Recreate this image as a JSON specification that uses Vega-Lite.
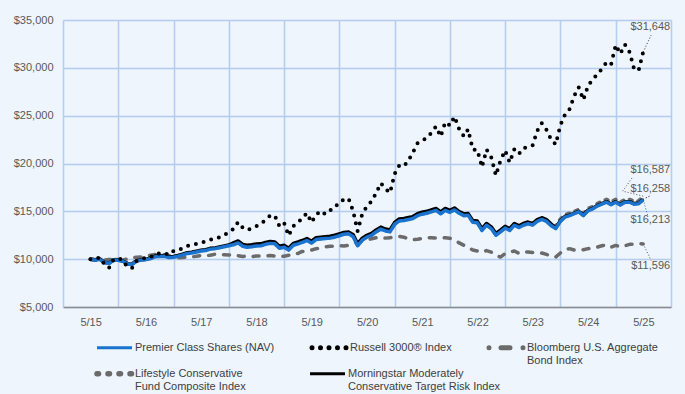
{
"$schema":"https://vega.github.io/schema/vega-lite/v6.json",
"width":608,"height":287,
"autosize":"none",
"padding":{"left":63,"top":20,"right":14,"bottom":87},
"background":"#eef5fc",
"config":{"view":{"stroke":null,"fill":"#eef5fc"},"font":"Liberation Sans",
"axis":{"labelFont":"Liberation Sans","labelFontSize":11,"labelColor":"#595959","gridColor":"#b3ccef","gridWidth":1.5,"ticks":false,"title":null}},
"data":{"values":[
{"d":"2015-05-01","premier":10000,"russell":10000,"bloomberg":10000,"lifestyle":10000,"morningstar":10000},
{"d":"2015-06-01","premier":9900,"russell":10020,"bloomberg":9900,"lifestyle":9980,"morningstar":9930},
{"d":"2015-07-01","premier":9980,"russell":10180,"bloomberg":9960,"lifestyle":10060,"morningstar":10010},
{"d":"2015-08-01","premier":9650,"russell":9500,"bloomberg":9900,"lifestyle":9730,"morningstar":9680},
{"d":"2015-09-01","premier":9550,"russell":9100,"bloomberg":9970,"lifestyle":9630,"morningstar":9580},
{"d":"2015-10-01","premier":9900,"russell":9950,"bloomberg":9970,"lifestyle":9980,"morningstar":9930},
{"d":"2015-11-01","premier":9880,"russell":10100,"bloomberg":9950,"lifestyle":9960,"morningstar":9910},
{"d":"2015-12-01","premier":9780,"russell":9900,"bloomberg":9900,"lifestyle":9860,"morningstar":9810},
{"d":"2016-01-01","premier":9500,"russell":9150,"bloomberg":10040,"lifestyle":9580,"morningstar":9530},
{"d":"2016-02-01","premier":9450,"russell":9100,"bloomberg":10110,"lifestyle":9530,"morningstar":9480},
{"d":"2016-03-01","premier":9800,"russell":9800,"bloomberg":10200,"lifestyle":9880,"morningstar":9830},
{"d":"2016-04-01","premier":9900,"russell":10000,"bloomberg":10240,"lifestyle":9980,"morningstar":9930},
{"d":"2016-05-01","premier":9950,"russell":10150,"bloomberg":10240,"lifestyle":10030,"morningstar":9980},
{"d":"2016-06-01","premier":10050,"russell":10200,"bloomberg":10420,"lifestyle":10130,"morningstar":10130},
{"d":"2016-07-01","premier":10250,"russell":10550,"bloomberg":10480,"lifestyle":10330,"morningstar":10330},
{"d":"2016-08-01","premier":10280,"russell":10600,"bloomberg":10470,"lifestyle":10360,"morningstar":10360},
{"d":"2016-09-01","premier":10300,"russell":10620,"bloomberg":10460,"lifestyle":10380,"morningstar":10380},
{"d":"2016-10-01","premier":10180,"russell":10450,"bloomberg":10380,"lifestyle":10260,"morningstar":10260},
{"d":"2016-11-01","premier":10200,"russell":10850,"bloomberg":10130,"lifestyle":10280,"morningstar":10280},
{"d":"2016-12-01","premier":10300,"russell":10950,"bloomberg":10150,"lifestyle":10380,"morningstar":10380},
{"d":"2017-01-01","premier":10450,"russell":11150,"bloomberg":10170,"lifestyle":10530,"morningstar":10530},
{"d":"2017-02-01","premier":10600,"russell":11400,"bloomberg":10240,"lifestyle":10650,"morningstar":10680},
{"d":"2017-03-01","premier":10650,"russell":11450,"bloomberg":10230,"lifestyle":10700,"morningstar":10730},
{"d":"2017-04-01","premier":10750,"russell":11600,"bloomberg":10310,"lifestyle":10800,"morningstar":10830},
{"d":"2017-05-01","premier":10850,"russell":11750,"bloomberg":10390,"lifestyle":10900,"morningstar":10930},
{"d":"2017-06-01","premier":10900,"russell":11850,"bloomberg":10370,"lifestyle":10950,"morningstar":10980},
{"d":"2017-07-01","premier":11050,"russell":12050,"bloomberg":10410,"lifestyle":11100,"morningstar":11130},
{"d":"2017-08-01","premier":11100,"russell":12100,"bloomberg":10510,"lifestyle":11150,"morningstar":11180},
{"d":"2017-09-01","premier":11200,"russell":12300,"bloomberg":10460,"lifestyle":11250,"morningstar":11280},
{"d":"2017-10-01","premier":11300,"russell":12500,"bloomberg":10460,"lifestyle":11350,"morningstar":11380},
{"d":"2017-11-01","premier":11400,"russell":12850,"bloomberg":10440,"lifestyle":11450,"morningstar":11480},
{"d":"2017-12-01","premier":11500,"russell":13150,"bloomberg":10490,"lifestyle":11550,"morningstar":11700},
{"d":"2018-01-01","premier":11700,"russell":13880,"bloomberg":10370,"lifestyle":11750,"morningstar":11900},
{"d":"2018-02-01","premier":11350,"russell":13300,"bloomberg":10270,"lifestyle":11400,"morningstar":11550},
{"d":"2018-03-01","premier":11250,"russell":13050,"bloomberg":10340,"lifestyle":11300,"morningstar":11450},
{"d":"2018-04-01","premier":11300,"russell":13200,"bloomberg":10260,"lifestyle":11350,"morningstar":11500},
{"d":"2018-05-01","premier":11380,"russell":13450,"bloomberg":10340,"lifestyle":11430,"morningstar":11580},
{"d":"2018-06-01","premier":11400,"russell":13700,"bloomberg":10330,"lifestyle":11450,"morningstar":11600},
{"d":"2018-07-01","premier":11550,"russell":14100,"bloomberg":10330,"lifestyle":11600,"morningstar":11750},
{"d":"2018-08-01","premier":11650,"russell":14550,"bloomberg":10390,"lifestyle":11700,"morningstar":11850},
{"d":"2018-09-01","premier":11600,"russell":14550,"bloomberg":10330,"lifestyle":11650,"morningstar":11800},
{"d":"2018-10-01","premier":11150,"russell":13450,"bloomberg":10250,"lifestyle":11200,"morningstar":11350},
{"d":"2018-11-01","premier":11250,"russell":13800,"bloomberg":10310,"lifestyle":11300,"morningstar":11450},
{"d":"2018-12-01","premier":10950,"russell":12450,"bloomberg":10400,"lifestyle":11000,"morningstar":11150},
{"d":"2019-01-01","premier":11450,"russell":13450,"bloomberg":10610,"lifestyle":11500,"morningstar":11650},
{"d":"2019-02-01","premier":11600,"russell":13850,"bloomberg":10600,"lifestyle":11650,"morningstar":11800},
{"d":"2019-03-01","premier":11750,"russell":14250,"bloomberg":10810,"lifestyle":11800,"morningstar":11950},
{"d":"2019-04-01","premier":11950,"russell":14820,"bloomberg":10810,"lifestyle":12000,"morningstar":12150},
{"d":"2019-05-01","premier":11680,"russell":13850,"bloomberg":10950,"lifestyle":11730,"morningstar":11880},
{"d":"2019-06-01","premier":12050,"russell":14650,"bloomberg":11100,"lifestyle":12100,"morningstar":12250},
{"d":"2019-07-01","premier":12100,"russell":15050,"bloomberg":11150,"lifestyle":12150,"morningstar":12300},
{"d":"2019-08-01","premier":12150,"russell":14700,"bloomberg":11300,"lifestyle":12200,"morningstar":12350},
{"d":"2019-09-01","premier":12200,"russell":15100,"bloomberg":11350,"lifestyle":12250,"morningstar":12400},
{"d":"2019-10-01","premier":12300,"russell":15350,"bloomberg":11370,"lifestyle":12350,"morningstar":12500},
{"d":"2019-11-01","premier":12450,"russell":16000,"bloomberg":11400,"lifestyle":12500,"morningstar":12650},
{"d":"2019-12-01","premier":12600,"russell":16200,"bloomberg":11380,"lifestyle":12650,"morningstar":12800},
{"d":"2020-01-01","premier":12650,"russell":16350,"bloomberg":11450,"lifestyle":12700,"morningstar":12850},
{"d":"2020-02-01","premier":12350,"russell":15000,"bloomberg":11700,"lifestyle":12400,"morningstar":12550},
{"d":"2020-03-01","premier":11400,"russell":12930,"bloomberg":11750,"lifestyle":11450,"morningstar":11600},
{"d":"2020-04-01","premier":12000,"russell":14750,"bloomberg":11900,"lifestyle":12050,"morningstar":12200},
{"d":"2020-05-01","premier":12300,"russell":15510,"bloomberg":12000,"lifestyle":12350,"morningstar":12500},
{"d":"2020-06-01","premier":12500,"russell":16050,"bloomberg":12140,"lifestyle":12550,"morningstar":12700},
{"d":"2020-07-01","premier":12850,"russell":16900,"bloomberg":12240,"lifestyle":12900,"morningstar":13050},
{"d":"2020-08-01","premier":13150,"russell":17950,"bloomberg":12240,"lifestyle":13200,"morningstar":13350},
{"d":"2020-09-01","premier":12950,"russell":17360,"bloomberg":12200,"lifestyle":13000,"morningstar":13150},
{"d":"2020-10-01","premier":12850,"russell":16940,"bloomberg":12250,"lifestyle":12900,"morningstar":13050},
{"d":"2020-11-01","premier":13650,"russell":18930,"bloomberg":12300,"lifestyle":13700,"morningstar":13850},
{"d":"2020-12-01","premier":14000,"russell":19790,"bloomberg":12380,"lifestyle":14050,"morningstar":14200},
{"d":"2021-01-01","premier":14050,"russell":19720,"bloomberg":12300,"lifestyle":14100,"morningstar":14250},
{"d":"2021-02-01","premier":14150,"russell":20350,"bloomberg":12100,"lifestyle":14200,"morningstar":14350},
{"d":"2021-03-01","premier":14250,"russell":21150,"bloomberg":12040,"lifestyle":14300,"morningstar":14450},
{"d":"2021-04-01","premier":14550,"russell":22120,"bloomberg":12080,"lifestyle":14600,"morningstar":14750},
{"d":"2021-05-01","premier":14700,"russell":22350,"bloomberg":12150,"lifestyle":14750,"morningstar":14900},
{"d":"2021-06-01","premier":14800,"russell":22700,"bloomberg":12240,"lifestyle":14850,"morningstar":15000},
{"d":"2021-07-01","premier":14950,"russell":23200,"bloomberg":12250,"lifestyle":15000,"morningstar":15150},
{"d":"2021-08-01","premier":15100,"russell":23870,"bloomberg":12220,"lifestyle":15150,"morningstar":15300},
{"d":"2021-09-01","premier":14750,"russell":22820,"bloomberg":12200,"lifestyle":14800,"morningstar":14950},
{"d":"2021-10-01","premier":15100,"russell":24310,"bloomberg":12240,"lifestyle":15150,"morningstar":15300},
{"d":"2021-11-01","premier":14900,"russell":23970,"bloomberg":12180,"lifestyle":14950,"morningstar":15100},
{"d":"2021-12-01","premier":15150,"russell":24910,"bloomberg":11960,"lifestyle":15200,"morningstar":15350},
{"d":"2022-01-01","premier":14800,"russell":23600,"bloomberg":11700,"lifestyle":14850,"morningstar":14980},
{"d":"2022-02-01","premier":14550,"russell":22850,"bloomberg":11450,"lifestyle":14600,"morningstar":14730},
{"d":"2022-03-01","premier":14600,"russell":23580,"bloomberg":11260,"lifestyle":14650,"morningstar":14780},
{"d":"2022-04-01","premier":13850,"russell":21460,"bloomberg":10950,"lifestyle":13900,"morningstar":14030},
{"d":"2022-05-01","premier":13800,"russell":21430,"bloomberg":10850,"lifestyle":13850,"morningstar":13980},
{"d":"2022-06-01","premier":13000,"russell":19620,"bloomberg":10700,"lifestyle":13050,"morningstar":13180},
{"d":"2022-07-01","premier":13550,"russell":21460,"bloomberg":10900,"lifestyle":13600,"morningstar":13730},
{"d":"2022-08-01","premier":13200,"russell":20660,"bloomberg":10740,"lifestyle":13250,"morningstar":13380},
{"d":"2022-09-01","premier":12500,"russell":18750,"bloomberg":10400,"lifestyle":12550,"morningstar":12680},
{"d":"2022-10-01","premier":12850,"russell":20300,"bloomberg":10220,"lifestyle":12900,"morningstar":13030},
{"d":"2022-11-01","premier":13250,"russell":21360,"bloomberg":10600,"lifestyle":13300,"morningstar":13430},
{"d":"2022-12-01","premier":13000,"russell":20100,"bloomberg":10740,"lifestyle":13100,"morningstar":13180},
{"d":"2023-01-01","premier":13550,"russell":21500,"bloomberg":10850,"lifestyle":13650,"morningstar":13730},
{"d":"2023-02-01","premier":13300,"russell":21010,"bloomberg":10600,"lifestyle":13400,"morningstar":13480},
{"d":"2023-03-01","premier":13550,"russell":21600,"bloomberg":10750,"lifestyle":13650,"morningstar":13730},
{"d":"2023-04-01","premier":13700,"russell":21750,"bloomberg":10740,"lifestyle":13800,"morningstar":13880},
{"d":"2023-05-01","premier":13550,"russell":21880,"bloomberg":10700,"lifestyle":13650,"morningstar":13730},
{"d":"2023-06-01","premier":13950,"russell":23400,"bloomberg":10680,"lifestyle":14050,"morningstar":14130},
{"d":"2023-07-01","premier":14150,"russell":24210,"bloomberg":10640,"lifestyle":14250,"morningstar":14330},
{"d":"2023-08-01","premier":13950,"russell":23520,"bloomberg":10500,"lifestyle":14050,"morningstar":14130},
{"d":"2023-09-01","premier":13500,"russell":22500,"bloomberg":10300,"lifestyle":13600,"morningstar":13680},
{"d":"2023-10-01","premier":13200,"russell":21990,"bloomberg":10220,"lifestyle":13450,"morningstar":13260},
{"d":"2023-11-01","premier":13950,"russell":24000,"bloomberg":10650,"lifestyle":14200,"morningstar":14010},
{"d":"2023-12-01","premier":14400,"russell":25100,"bloomberg":11000,"lifestyle":14650,"morningstar":14460},
{"d":"2024-01-01","premier":14550,"russell":25700,"bloomberg":11100,"lifestyle":14800,"morningstar":14610},
{"d":"2024-02-01","premier":14750,"russell":27100,"bloomberg":10950,"lifestyle":15000,"morningstar":14810},
{"d":"2024-03-01","premier":14950,"russell":27970,"bloomberg":11000,"lifestyle":15200,"morningstar":15010},
{"d":"2024-04-01","premier":14550,"russell":26650,"bloomberg":10990,"lifestyle":14800,"morningstar":14610},
{"d":"2024-05-01","premier":15050,"russell":28100,"bloomberg":11100,"lifestyle":15300,"morningstar":15110},
{"d":"2024-06-01","premier":15250,"russell":28800,"bloomberg":11150,"lifestyle":15500,"morningstar":15310},
{"d":"2024-07-01","premier":15550,"russell":29300,"bloomberg":11260,"lifestyle":15800,"morningstar":15610},
{"d":"2024-08-01","premier":15750,"russell":29900,"bloomberg":11400,"lifestyle":16050,"morningstar":15810},
{"d":"2024-09-01","premier":15950,"russell":30580,"bloomberg":11500,"lifestyle":16250,"morningstar":16010},
{"d":"2024-10-01","premier":15700,"russell":30350,"bloomberg":11250,"lifestyle":16000,"morningstar":15760},
{"d":"2024-11-01","premier":15950,"russell":32390,"bloomberg":11440,"lifestyle":16250,"morningstar":16010},
{"d":"2024-12-01","premier":15650,"russell":31460,"bloomberg":11300,"lifestyle":15950,"morningstar":15710},
{"d":"2025-01-01","premier":15950,"russell":32430,"bloomberg":11400,"lifestyle":16250,"morningstar":16010},
{"d":"2025-02-01","premier":15950,"russell":31620,"bloomberg":11550,"lifestyle":16250,"morningstar":16010},
{"d":"2025-03-01","premier":15750,"russell":29950,"bloomberg":11560,"lifestyle":16050,"morningstar":15810},
{"d":"2025-04-01","premier":15800,"russell":29710,"bloomberg":11620,"lifestyle":16100,"morningstar":15860},
{"d":"2025-05-01","premier":16213,"russell":31648,"bloomberg":11596,"lifestyle":16587,"morningstar":16258}
]},
"transform":[{"fold":["premier","russell","bloomberg","lifestyle","morningstar"],"as":["series","value"]}],
"encoding":{
"x":{"field":"d","type":"temporal","scale":{"type":"utc","domain":[{"year":2014,"month":11,"date":1,"utc":true},{"year":2025,"month":11,"date":1,"utc":true}]},
"axis":{"values":[{"year":2015,"month":11,"date":1,"utc":true},{"year":2016,"month":11,"date":1,"utc":true},{"year":2017,"month":11,"date":1,"utc":true},{"year":2018,"month":11,"date":1,"utc":true},{"year":2019,"month":11,"date":1,"utc":true},{"year":2020,"month":11,"date":1,"utc":true},{"year":2021,"month":11,"date":1,"utc":true},{"year":2022,"month":11,"date":1,"utc":true},{"year":2023,"month":11,"date":1,"utc":true},{"year":2024,"month":11,"date":1,"utc":true},{"year":2025,"month":11,"date":1,"utc":true}],
"labelExpr":"'5/' + utcFormat(datum.value, '%y')","labelOffset":-27.6,"labelAngle":0,"labelFlush":false,"labelOverlap":false,"labelBound":false,"labelPadding":9,"grid":true,"domainColor":"#8c8c8c","domainWidth":1.5}},
"y":{"field":"value","type":"quantitative","scale":{"domain":[5000,35000],"nice":false,"zero":false},
"axis":{"values":[5000,10000,15000,20000,25000,30000,35000],"format":"$,d","grid":true,"labelPadding":10,"domainColor":"#b3ccef","domainWidth":1.5}}
},
"layer":[
{"transform":[{"filter":"datum.series == 'bloomberg'"}],
"mark":{"type":"line","strokeWidth":3.5,"strokeDash":[6,9],"strokeCap":"round","strokeJoin":"round"},
"encoding":{"color":{"field":"series","type":"nominal","scale":{"domain":["premier","russell","bloomberg"],"range":["#1a73cf","#000000","#6b6b6b"]},
"legend":{"orient":"none","legendX":34,"legendY":322,"direction":"horizontal","title":null,"symbolType":"M-1,0L1,0","symbolSize":1225,"symbolStrokeWidth":3,"labelFont":"Liberation Sans","labelFontSize":11,"labelColor":"#404040","labelOffset":2,"columnPadding":27,"labelLimit":300,
"labelExpr":"datum.value == 'premier' ? ['Premier Class Shares (NAV)', ''] : datum.value == 'russell' ? ['Russell 3000® Index', ''] : ['Bloomberg U.S. Aggregate', 'Bond Index']",
"encode":{"symbols":{"update":{"x":{"value":17.5},"strokeDash":{"signal":"datum.value == 'russell' ? [0, 8.5] : datum.value == 'bloomberg' ? [0, 12, 9, 13] : [1, 0]"},"strokeWidth":{"signal":"datum.value == 'premier' ? 3 : 5"},"strokeCap":{"signal":"datum.value == 'premier' ? 'butt' : 'round'"}}},"labels":{"update":{"x":{"value":38}}}}}}}},
{"transform":[{"filter":"datum.series == 'lifestyle'"}],
"mark":{"type":"line","strokeWidth":3.5,"strokeDash":[3,6],"strokeCap":"round","strokeJoin":"round"},
"encoding":{"stroke":{"field":"series","type":"nominal","scale":{"domain":["lifestyle","morningstar"],"range":["#6b6b6b","#000000"]},
"legend":{"orient":"none","legendX":34,"legendY":348,"direction":"horizontal","title":null,"symbolType":"M-1,0L1,0","symbolSize":1225,"symbolStrokeWidth":3,"labelFont":"Liberation Sans","labelFontSize":11,"labelColor":"#404040","labelOffset":2,"columnPadding":58,"labelLimit":300,
"labelExpr":"datum.value == 'lifestyle' ? ['Lifestyle Conservative', 'Fund Composite Index'] : ['Morningstar Moderately', 'Conservative Target Risk Index']",
"encode":{"symbols":{"update":{"x":{"value":17.5},"strokeDash":{"signal":"datum.value == 'lifestyle' ? [1.5, 9.5] : [1, 0]"},"strokeWidth":{"signal":"datum.value == 'lifestyle' ? 5.5 : 3"},"strokeCap":{"signal":"datum.value == 'lifestyle' ? 'round' : 'butt'"}}},"labels":{"update":{"x":{"value":38}}}}}}}},
{"transform":[{"filter":"datum.series == 'morningstar'"}],
"mark":{"type":"line","strokeWidth":3.5,"strokeJoin":"round"},
"encoding":{"stroke":{"field":"series","type":"nominal","scale":{"domain":["lifestyle","morningstar"],"range":["#6b6b6b","#000000"]}}}},
{"transform":[{"filter":"datum.series == 'premier'"}],
"mark":{"type":"line","strokeWidth":3.5,"strokeJoin":"round"},
"encoding":{"color":{"field":"series","type":"nominal","scale":{"domain":["premier","russell","bloomberg"],"range":["#1a73cf","#000000","#6b6b6b"]}}}},
{"transform":[{"filter":"datum.series == 'russell'"}],
"mark":{"type":"line","strokeWidth":4,"strokeDash":[0,8],"strokeCap":"round","strokeJoin":"round"},
"encoding":{"color":{"field":"series","type":"nominal","scale":{"domain":["premier","russell","bloomberg"],"range":["#1a73cf","#000000","#6b6b6b"]}}}},
{"transform":[{"filter":"datum.series == 'russell' && utcyear(datum.d) == 2025 && utcmonth(datum.d) == 4"}],
"mark":{"type":"rule","strokeDash":[1,2],"strokeWidth":1,"color":"#333333","x2Offset":8,"y2Offset":-17},
"encoding":{"x2":{"field":"d"},"y2":{"field":"value"}}},
{"transform":[{"filter":"datum.series == 'lifestyle' && utcyear(datum.d) == 2025 && utcmonth(datum.d) == 4"}],
"mark":{"type":"rule","strokeDash":[1,2],"strokeWidth":1,"color":"#555555","x2Offset":-20.5,"y2Offset":-5},
"encoding":{"x2":{"field":"d"},"y2":{"field":"value"}}},
{"transform":[{"filter":"datum.series == 'lifestyle' && utcyear(datum.d) == 2025 && utcmonth(datum.d) == 4"}],
"mark":{"type":"rule","strokeDash":[1,2],"strokeWidth":1,"color":"#555555","xOffset":-20.5,"yOffset":-5,"x2Offset":-10.5,"y2Offset":-19},
"encoding":{"x2":{"field":"d"},"y2":{"field":"value"}}},
{"transform":[{"filter":"datum.series == 'morningstar' && utcyear(datum.d) == 2025 && utcmonth(datum.d) == 4"}],
"mark":{"type":"rule","strokeDash":[1,2],"strokeWidth":1,"color":"#000000","x2Offset":8,"y2Offset":-4},
"encoding":{"x2":{"field":"d"},"y2":{"field":"value"}}},
{"transform":[{"filter":"datum.series == 'premier' && utcyear(datum.d) == 2025 && utcmonth(datum.d) == 4"}],
"mark":{"type":"rule","strokeDash":[1,2],"strokeWidth":1,"color":"#1a73cf","x2Offset":4.5,"y2Offset":15.5},
"encoding":{"x2":{"field":"d"},"y2":{"field":"value"}}},
{"transform":[{"filter":"datum.series == 'bloomberg' && utcyear(datum.d) == 2025 && utcmonth(datum.d) == 4"}],
"mark":{"type":"rule","strokeDash":[1,2],"strokeWidth":1,"color":"#555555","x2Offset":8,"y2Offset":16.5},
"encoding":{"x2":{"field":"d"},"y2":{"field":"value"}}},
{"transform":[{"filter":"datum.series == 'russell' && utcyear(datum.d) == 2025 && utcmonth(datum.d) == 4"}],
"mark":{"type":"text","align":"right","baseline":"middle","dx":27,"dy":-25,"font":"Liberation Sans","fontSize":11,"color":"#595959"},
"encoding":{"text":{"field":"value","type":"quantitative","format":"$,d"}}},
{"transform":[{"filter":"datum.series == 'lifestyle' && utcyear(datum.d) == 2025 && utcmonth(datum.d) == 4"}],
"mark":{"type":"text","align":"right","baseline":"middle","dx":27,"dy":-26,"font":"Liberation Sans","fontSize":11,"color":"#595959"},
"encoding":{"text":{"field":"value","type":"quantitative","format":"$,d"}}},
{"transform":[{"filter":"datum.series == 'morningstar' && utcyear(datum.d) == 2025 && utcmonth(datum.d) == 4"}],
"mark":{"type":"text","align":"right","baseline":"middle","dx":27,"dy":-10.5,"font":"Liberation Sans","fontSize":11,"color":"#595959"},
"encoding":{"text":{"field":"value","type":"quantitative","format":"$,d"}}},
{"transform":[{"filter":"datum.series == 'premier' && utcyear(datum.d) == 2025 && utcmonth(datum.d) == 4"}],
"mark":{"type":"text","align":"right","baseline":"middle","dx":27,"dy":20.5,"font":"Liberation Sans","fontSize":11,"color":"#595959"},
"encoding":{"text":{"field":"value","type":"quantitative","format":"$,d"}}},
{"transform":[{"filter":"datum.series == 'bloomberg' && utcyear(datum.d) == 2025 && utcmonth(datum.d) == 4"}],
"mark":{"type":"text","align":"right","baseline":"middle","dx":27,"dy":22.5,"font":"Liberation Sans","fontSize":11,"color":"#595959"},
"encoding":{"text":{"field":"value","type":"quantitative","format":"$,d"}}}
]
}
